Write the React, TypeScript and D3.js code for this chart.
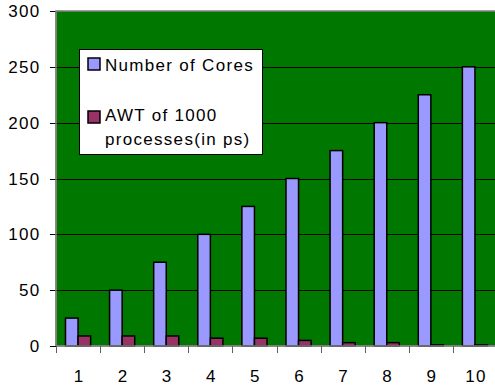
import { useRef, useEffect } from 'react';
import * as d3 from 'd3';

const categories = ['1', '2', '3', '4', '5', '6', '7', '8', '9', '10'];
const cores = [25, 50, 75, 100, 125, 150, 175, 200, 225, 250];
const awt = [9, 9, 9, 7, 7, 5, 3, 3, 1, 1];
const yTicks = [0, 50, 100, 150, 200, 250, 300];
const seriesNames = ['Number of Cores', 'AWT of 1000|processes(in ps)'];
const seriesColors = ['#9999FF', '#993366'];

const W = 495;
const H = 387;

const App = () => {
  const svgRef = useRef<SVGSVGElement | null>(null);

  useEffect(() => {
    const svg = d3.select(svgRef.current);
    svg.selectAll('*').remove();

    const plot = { left: 56, right: 497, top: 11, bottom: 346 };
    const font = { family: '"Liberation Sans", Arial, sans-serif', size: 17, spacing: 1.3 };

    const x = d3.scaleBand<string>()
      .domain(categories)
      .range([plot.left, plot.right])
      .paddingInner(0.43)
      .paddingOuter(0.215);

    const sub = d3.scaleBand<number>()
      .domain([0, 1])
      .range([0, x.bandwidth()]);

    const y = d3.scaleLinear()
      .domain([0, 300])
      .range([plot.bottom, plot.top]);

    // plot background
    svg.append('rect')
      .attr('x', plot.left)
      .attr('y', plot.top)
      .attr('width', plot.right - plot.left)
      .attr('height', plot.bottom - plot.top)
      .attr('fill', '#007800')
      .attr('stroke', '#808080')
      .attr('stroke-width', 1.5);

    // gridlines
    svg.selectAll('.grid')
      .data(yTicks.filter(t => t > 0 && t < 300))
      .enter()
      .append('line')
      .attr('x1', plot.left)
      .attr('x2', plot.right)
      .attr('y1', d => Math.round(y(d)) + 0.5)
      .attr('y2', d => Math.round(y(d)) + 0.5)
      .attr('stroke', '#000')
      .attr('stroke-width', 1);

    // y ticks + labels
    svg.selectAll('.ytick')
      .data(yTicks)
      .enter()
      .append('line')
      .attr('x1', plot.left - 6)
      .attr('x2', plot.left)
      .attr('y1', d => Math.round(y(d)) + 0.5)
      .attr('y2', d => Math.round(y(d)) + 0.5)
      .attr('stroke', '#000');

    svg.selectAll('.ylab')
      .data(yTicks)
      .enter()
      .append('text')
      .attr('x', 40.5)
      .attr('y', d => y(d))
      .attr('dy', '0.36em')
      .attr('text-anchor', 'end')
      .style('font-family', font.family)
      .style('font-size', `${font.size}px`)
      .style('letter-spacing', `${font.spacing}px`)
      .attr('fill', '#000')
      .text(d => d);

    // bars
    const series = [cores, awt];
    series.forEach((vals, si) => {
      svg.append('g')
        .selectAll('rect')
        .data(vals)
        .enter()
        .append('rect')
        .attr('x', (_, i) => (x(categories[i]) ?? 0) + (sub(si) ?? 0))
        .attr('y', d => y(d))
        .attr('width', sub.bandwidth())
        .attr('height', d => y(0) - y(d))
        .attr('fill', seriesColors[si])
        .attr('stroke', '#000')
        .attr('stroke-width', 1.5);
    });

    // axes lines
    svg.append('line')
      .attr('x1', plot.left).attr('x2', plot.left)
      .attr('y1', plot.top).attr('y2', plot.bottom)
      .attr('stroke', '#808080').attr('stroke-width', 1.5);
    svg.append('line')
      .attr('x1', plot.left).attr('x2', plot.right)
      .attr('y1', plot.bottom).attr('y2', plot.bottom)
      .attr('stroke', '#808080').attr('stroke-width', 1.5);

    // x ticks at category boundaries
    const half = x.step() * x.paddingInner() / 2;
    svg.selectAll('.xtick')
      .data(categories)
      .enter()
      .append('line')
      .attr('x1', d => Math.round((x(d) ?? 0) - half) + 0.5)
      .attr('x2', d => Math.round((x(d) ?? 0) - half) + 0.5)
      .attr('y1', plot.bottom)
      .attr('y2', plot.bottom + 7)
      .attr('stroke', '#606060');

    svg.selectAll('.xlab')
      .data(categories)
      .enter()
      .append('text')
      .attr('x', d => (x(d) ?? 0) + x.bandwidth() / 2 + 1)
      .attr('y', 381.5)
      .attr('text-anchor', 'middle')
      .style('font-family', font.family)
      .style('font-size', `${font.size}px`)
      .style('letter-spacing', `${font.spacing}px`)
      .attr('fill', '#000')
      .text(d => d);

    // legend
    const legend = svg.append('g');
    legend.append('rect')
      .attr('x', 79.5).attr('y', 49.5)
      .attr('width', 183).attr('height', 105)
      .attr('fill', '#fff')
      .attr('stroke', '#000')
      .attr('stroke-width', 1);

    const swatchY = [58, 111];
    const textY = [71, 121];
    seriesNames.forEach((name, i) => {
      legend.append('rect')
        .attr('x', 88).attr('y', swatchY[i])
        .attr('width', 12).attr('height', 12)
        .attr('fill', seriesColors[i])
        .attr('stroke', '#000')
        .attr('stroke-width', 1.5);
      const lines = name.split('|');
      lines.forEach((ln, j) => {
        legend.append('text')
          .attr('x', 105)
          .attr('y', textY[i] + j * 24)
          .style('font-family', font.family)
          .style('font-size', `${font.size}px`)
          .style('letter-spacing', `${font.spacing}px`)
          .attr('fill', '#000')
          .text(ln);
      });
    });
  }, []);

  return (
    <svg
      ref={svgRef}
      width={W}
      height={H}
      style={{ position: 'absolute', left: 0, top: 0, background: '#fff' }}
    />
  );
};

export default App;
